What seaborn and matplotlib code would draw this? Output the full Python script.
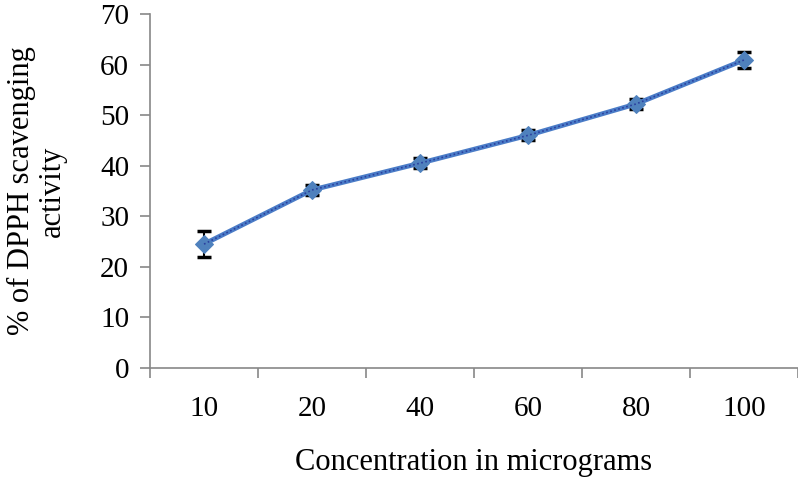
import numpy as np
import pandas as pd
import matplotlib
matplotlib.use('Agg')
import matplotlib.pyplot as plt
import seaborn as sns

# data
concentrations = ['10', '20', '40', '60', '80', '100']
activity = [24.5, 35.2, 40.5, 46.0, 52.2, 60.9]
errors = [2.5, 1.0, 1.0, 1.0, 1.0, 1.5]

df = pd.DataFrame({'conc': concentrations, 'activity': activity, 'err': errors})

sns.set_style('white')
plt.rcParams['font.family'] = ['Liberation Serif', 'DejaVu Serif']

fig = plt.figure(figsize=(7.98, 4.82), dpi=100)
ax = fig.add_axes([0.188, 0.2365, 0.812, 0.7345])

# error bars
ax.errorbar(df['conc'], df['activity'], yerr=df['err'], fmt='none',
            ecolor='black', elinewidth=1.5, capsize=5, capthick=2.5, zorder=2)

sns.lineplot(data=df, x='conc', y='activity', sort=False, ax=ax,
             color='#4a7cc7', linewidth=3.5, marker='D', markersize=9,
             markerfacecolor='#4f81bd', markeredgecolor='#4f81bd', zorder=3)
# darker dotted core of the line
ax.plot(df['conc'], df['activity'], color='#2a3f9e', linewidth=1.2,
        linestyle=(0, (1, 1.5)), zorder=4)

ax.set_xlim(-0.5, len(concentrations) - 0.5)
ax.set_ylim(0, 70)
ax.set_yticks(np.arange(0, 71, 10))

# tick marks between categories
ax.set_xticks(np.arange(-0.5, len(concentrations), 1), minor=True)
ax.tick_params(axis='x', which='major', bottom=True, length=0, pad=20,
               labelsize=21, labelcolor='black')
ax.tick_params(axis='x', which='minor', bottom=True, length=7, width=1.2,
               color='#888888', direction='out')
ax.tick_params(axis='y', left=True, length=7, width=1.2, color='#888888',
               direction='out', labelsize=21, pad=8, labelcolor='black')

for side in ['top', 'right']:
    ax.spines[side].set_visible(False)
for side in ['left', 'bottom']:
    ax.spines[side].set_color('#888888')
    ax.spines[side].set_linewidth(1.2)

ax.set_xlabel('Concentration in micrograms', fontsize=22, color='black')
ax.xaxis.set_label_coords(0.5, -0.225)
ax.set_ylabel('% of DPPH scavenging\nactivity', fontsize=22, color='black',
              linespacing=1.1)
ax.yaxis.set_label_coords(-0.128, 0.5)

fig.savefig('out.png', dpi=100)
